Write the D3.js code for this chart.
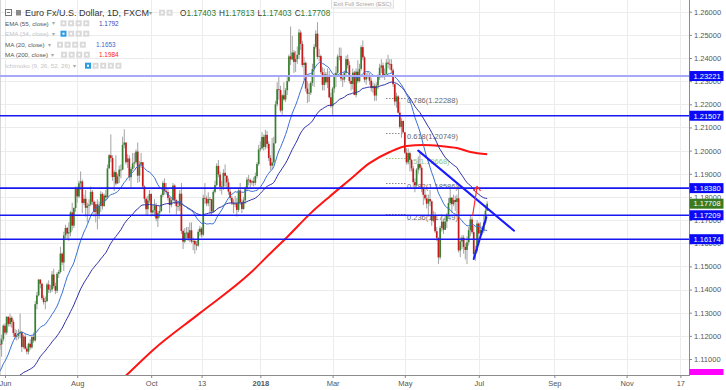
<!DOCTYPE html>
<html>
<head>
<meta charset="utf-8">
<script src="https://d3js.org/d3.v7.min.js"></script>
<style>
  body { margin: 0; background: #fff; }
  #chart { width: 726px; height: 390px; overflow: hidden; }
</style>
</head>
<body>
<div id="chart"></div>
<script>
//Datos diarios EUR/USD (FXCM). La barra 0 es el 01/06/2017, la primera del array es el 29/05/2017
const FIRST_BAR = -3;
const firstOpen = 1.1164;

//Cierres del 1 al 26 de mayo de 2017, solo para calcular la media de 20
const warmupCloses = [1.0902,1.0930,1.0885,1.0985,1.0996,1.0926,1.0874,1.0868,1.0862,1.0932,
  1.0980,1.1087,1.1160,1.1101,1.1206,1.1243,1.1183,1.1215,1.1211,1.1164];

const closes = [
  1.1163,1.1185,1.1244,
  //jun 2017
  1.1214,1.1282,1.1251,1.1278,1.1260,1.1212,1.1196,1.1200,1.1212,1.1218,1.1152,1.1197,1.1145,1.1132,1.1166,1.1150,1.1195,1.1180,1.1337,1.1375,1.1443,1.1425,
  //jul
  1.1363,1.1346,1.1350,1.1422,1.1400,1.1400,1.1465,1.1415,1.1395,1.1468,1.1476,1.1555,1.1517,1.1634,1.1666,1.1642,1.1647,1.1733,1.1676,1.1752,1.1838,
  //ago
  1.1802,1.1859,1.1867,1.1774,1.1792,1.1753,1.1762,1.1767,1.1822,1.1779,1.1735,1.1768,1.1724,1.1761,1.1813,1.1760,1.1806,1.1798,1.1923,1.1980,1.1968,1.1886,1.1907,
  //sep
  1.1858,1.1889,1.1918,1.1918,1.2025,1.2035,1.1950,1.1966,1.1885,1.1921,1.1945,1.1950,1.1996,1.1892,1.1940,1.1950,1.1845,1.1792,1.1747,1.1785,1.1813,
  //oct
  1.1733,1.1742,1.1762,1.1707,1.1730,1.1739,1.1808,1.1860,1.1825,1.1821,1.1796,1.1765,1.1786,1.1849,1.1786,1.1760,1.1761,1.1814,1.1653,1.1607,1.1645,1.1646,
  //nov
  1.1621,1.1656,1.1608,1.1610,1.1595,1.1590,1.1649,1.1663,1.1637,1.1796,1.1793,1.1772,1.1791,1.1790,1.1737,1.1822,1.1851,1.1934,1.1897,1.1844,1.1845,1.1904,
  //dic
  1.1891,1.1863,1.1823,1.1796,1.1773,1.1768,1.1771,1.1744,1.1828,1.1777,1.1748,1.1785,1.1838,1.1875,1.1873,1.1862,1.1868,1.1861,1.1890,1.1942,1.2005,
  //ene 2018
  1.2010,1.2059,1.2016,1.2068,1.2029,1.1968,1.1935,1.1949,1.2032,1.2200,1.2265,1.2262,1.2173,1.2239,1.2221,1.2261,1.2300,1.2407,1.2394,1.2424,1.2383,1.2395,1.2414,
  //feb
  1.2510,1.2461,1.2370,1.2379,1.2268,1.2246,1.2250,1.2293,1.2352,1.2448,1.2505,1.2405,1.2408,1.2339,1.2284,1.2329,1.2295,1.2319,1.2230,1.2192,
  //mar
  1.2268,1.2318,1.2336,1.2406,1.2409,1.2311,1.2307,1.2335,1.2395,1.2369,1.2301,1.2288,1.2337,1.2240,1.2341,1.2300,1.2353,1.2447,1.2403,1.2307,1.2320,1.2322,
  //abr
  1.2302,1.2270,1.2279,1.2238,1.2281,1.2319,1.2358,1.2368,1.2326,1.2331,1.2380,1.2375,1.2374,1.2347,1.2287,1.2212,1.2234,1.2164,1.2103,1.2128,1.2079,
  //may
  1.1991,1.1950,1.1989,1.1960,1.1923,1.1864,1.1850,1.1918,1.1942,1.1926,1.1835,1.1809,1.1794,1.1771,1.1791,1.1781,1.1697,1.1720,1.1652,1.1623,1.1539,1.1666,1.1693,
  //jun
  1.1658,1.1694,1.1724,1.1774,1.1797,1.1769,1.1787,1.1778,1.1794,1.1569,1.1608,1.1624,1.1584,1.1571,1.1604,1.1656,1.1703,1.1648,1.1553,1.1568,1.1685,
  //jul
  1.1642,1.1657,1.1656,1.1689,1.17403,1.17708
];

const highs = [
  1.1190,1.1205,1.1250,
  1.1255,1.1285,1.1285,1.1296,1.1285,1.1270,1.1230,1.1225,1.1230,1.1296,1.1220,1.1205,1.1210,1.1155,1.1170,1.1185,1.1200,1.1215,1.1350,1.1390,1.1445,1.1445,
  1.1430,1.1375,1.1370,1.1430,1.1440,1.1420,1.1480,1.1490,1.1430,1.1475,1.1485,1.1585,1.1560,1.1650,1.1680,1.1670,1.1690,1.1740,1.1775,1.1755,1.1845,
  1.1845,1.1870,1.1910,1.1875,1.1810,1.1830,1.1775,1.1790,1.1845,1.1830,1.1785,1.1780,1.1790,1.1780,1.1825,1.1820,1.1815,1.1830,1.1940,1.1985,1.2070,1.1980,1.1915,
  1.1980,1.1900,1.1935,1.1940,1.2060,1.2092,1.2000,1.1985,1.1980,1.1930,1.1990,1.1990,1.2005,1.2035,1.1955,1.1990,1.1950,1.1850,1.1800,1.1805,1.1830,
  1.1815,1.1765,1.1790,1.1775,1.1740,1.1760,1.1815,1.1870,1.1880,1.1860,1.1835,1.1800,1.1795,1.1860,1.1855,1.1790,1.1775,1.1830,1.1860,1.1660,1.1665,1.1670,
  1.1670,1.1690,1.1690,1.1625,1.1615,1.1610,1.1660,1.1675,1.1670,1.1810,1.1860,1.1805,1.1820,1.1800,1.1785,1.1830,1.1870,1.1945,1.1960,1.1910,1.1870,1.1920,
  1.1940,1.1895,1.1880,1.1835,1.1805,1.1790,1.1805,1.1795,1.1835,1.1860,1.1790,1.1800,1.1845,1.1885,1.1895,1.1880,1.1875,1.1885,1.1905,1.1950,1.2025,
  1.2040,1.2080,1.2070,1.2090,1.2085,1.2040,1.1980,1.2055,1.2060,1.2215,1.2295,1.2320,1.2280,1.2245,1.2295,1.2270,1.2320,1.2415,1.2536,1.2495,1.2435,1.2430,1.2450,
  1.2525,1.2520,1.2475,1.2405,1.2385,1.2300,1.2290,1.2300,1.2375,1.2460,1.2520,1.2555,1.2440,1.2415,1.2360,1.2355,1.2340,1.2355,1.2345,1.2250,
  1.2275,1.2335,1.2365,1.2415,1.2445,1.2445,1.2330,1.2345,1.2410,1.2415,1.2385,1.2325,1.2355,1.2345,1.2355,1.2390,1.2375,1.2455,1.2476,1.2410,1.2335,1.2340,
  1.2335,1.2315,1.2295,1.2290,1.2295,1.2330,1.2375,1.2395,1.2380,1.2355,1.2395,1.2414,1.2395,1.2395,1.2355,1.2285,1.2250,1.2240,1.2210,1.2140,1.2130,
  1.2080,1.2010,1.2010,1.1995,1.1965,1.1935,1.1880,1.1925,1.1975,1.1995,1.1935,1.1835,1.1835,1.1810,1.1810,1.1830,1.1785,1.1740,1.1735,1.1670,1.1625,1.1675,1.1725,
  1.1705,1.1720,1.1730,1.1795,1.1840,1.1790,1.1810,1.1805,1.1810,1.1850,1.1625,1.1635,1.1635,1.1600,1.1630,1.1670,1.1720,1.1715,1.1675,1.1590,1.1700,
  1.1690,1.1690,1.1675,1.1720,1.1765,1.17813
];

const lows = [
  1.1140,1.1110,1.1175,
  1.1205,1.1205,1.1240,1.1240,1.1235,1.1195,1.1185,1.1180,1.1185,1.1190,1.1130,1.1145,1.1140,1.1120,1.1120,1.1140,1.1145,1.1170,1.1175,1.1315,1.1370,1.1405,
  1.1355,1.1335,1.1315,1.1345,1.1385,1.1385,1.1390,1.1405,1.1380,1.1385,1.1450,1.1470,1.1505,1.1480,1.1620,1.1615,1.1610,1.1630,1.1655,1.1665,1.1735,
  1.1775,1.1795,1.1830,1.1730,1.1765,1.1715,1.1690,1.1725,1.1760,1.1765,1.1715,1.1690,1.1660,1.1705,1.1735,1.1745,1.1760,1.1780,1.1790,1.1925,1.1950,1.1870,1.1825,
  1.1850,1.1860,1.1860,1.1880,1.1915,1.2010,1.1940,1.1925,1.1870,1.1835,1.1910,1.1925,1.1940,1.1860,1.1865,1.1925,1.1840,1.1775,1.1720,1.1720,1.1775,
  1.1715,1.1720,1.1715,1.1695,1.1670,1.1710,1.1735,1.1800,1.1810,1.1810,1.1785,1.1730,1.1755,1.1780,1.1770,1.1725,1.1740,1.1740,1.1640,1.1575,1.1600,1.1620,
  1.1610,1.1605,1.1600,1.1570,1.1555,1.1570,1.1585,1.1630,1.1625,1.1630,1.1770,1.1760,1.1760,1.1725,1.1720,1.1730,1.1815,1.1845,1.1885,1.1825,1.1810,1.1830,
  1.1845,1.1835,1.1810,1.1785,1.1765,1.1730,1.1755,1.1715,1.1735,1.1765,1.1730,1.1745,1.1770,1.1825,1.1850,1.1840,1.1850,1.1845,1.1850,1.1880,1.1935,
  1.1995,1.2005,1.2000,1.2005,1.2010,1.1955,1.1915,1.1920,1.1935,1.2030,1.2190,1.2220,1.2165,1.2155,1.2215,1.2210,1.2240,1.2295,1.2370,1.2390,1.2335,1.2340,1.2375,
  1.2395,1.2435,1.2360,1.2305,1.2255,1.2205,1.2210,1.2240,1.2280,1.2275,1.2440,1.2395,1.2385,1.2330,1.2260,1.2260,1.2285,1.2270,1.2225,1.2185,
  1.2155,1.2250,1.2275,1.2325,1.2390,1.2300,1.2275,1.2295,1.2320,1.2355,1.2290,1.2260,1.2265,1.2240,1.2230,1.2290,1.2295,1.2345,1.2390,1.2295,1.2285,1.2310,
  1.2285,1.2255,1.2250,1.2215,1.2215,1.2265,1.2305,1.2335,1.2315,1.2305,1.2320,1.2355,1.2350,1.2335,1.2275,1.2195,1.2185,1.2160,1.2095,1.2055,1.2075,
  1.1985,1.1940,1.1940,1.1910,1.1910,1.1840,1.1820,1.1850,1.1900,1.1915,1.1820,1.1765,1.1785,1.1750,1.1715,1.1760,1.1675,1.1690,1.1645,1.1610,1.1510,1.1530,1.1650,
  1.1640,1.1665,1.1665,1.1710,1.1765,1.1730,1.1760,1.1740,1.1730,1.1560,1.1540,1.1575,1.1555,1.1530,1.1510,1.1590,1.1630,1.1640,1.1540,1.1525,1.1560,
  1.1595,1.1620,1.1635,1.1645,1.1680,1.17403
];

//EMA 55: valor de partida (cierre del 28/04/2017) estimado del gráfico
const emaSeed = 1.0760;

//MA 200 (barra, valor)
const ma200Bars = [62, 73, 88, 116, 146, 158, 168, 182, 193, 205, 217, 229, 239, 249, 259, 269, 277, 287];
const ma200Values = [1.0960, 1.1035, 1.1138, 1.1298, 1.1471, 1.1557, 1.1627, 1.1730, 1.1800, 1.1873, 1.1946, 1.1994, 1.2020, 1.2024, 1.2020, 1.2011, 1.1994, 1.1984];

//Ejes
const priceTicks = [1.11, 1.12, 1.13, 1.14, 1.15, 1.16, 1.17, 1.18, 1.19, 1.20, 1.21, 1.22, 1.23, 1.24, 1.25, 1.26];
const tickBars = [0, 43, 87, 117, 152, 195, 238, 282, 327, 370, 402];
const tickLabels = ['Jun', 'Aug', 'Oct', '13', '2018', 'Mar', 'May', 'Jul', 'Sep', 'Nov', '17'];

//Líneas horizontales dibujadas
const levelPrices = [1.23221, 1.21507, 1.18380, 1.17209, 1.16174];

//Retroceso de Fibonacci
const fibRatios = ['0.786', '0.618', '0.5', '0.382', '0.236'];
const fibPrices = [1.22288, 1.20749, 1.19668, 1.18586, 1.17249];

//Tendencias y flecha (barra, precio)
const downTrend = [[246, 1.2000], [303, 1.1654]];
const upTrend = [[279, 1.1532], [286.5, 1.1712]];
const arrowLine = [[278.4, 1.1722], [281, 1.1843]];

//Leyenda
const ohlcLabels = ['O', 'H', 'L', 'C'];
const ohlcValues = ['1.17403', '1.17813', '1.17403', '1.17708'];
const lastPrice = 1.17708;

/////
// Gráfico
/////
const W = 726, H = 390, plotRight = 689, plotBottom = 375;
const FONT = '"Liberation Sans", Arial, sans-serif';
const UP = '#37802f', DOWN = '#c8191b', WICK = '#a3a3a3', LEVEL = '#1717f2', BOX = '#0a0af5';

let svg = d3.select('#chart').append('svg')
  .attr('width', W).attr('height', H)
  .style('font-family', FONT);

let defs = svg.append('defs');
defs.append('clipPath').attr('id', 'plotClip')
  .append('rect').attr('x', 0).attr('y', 0).attr('width', plotRight).attr('height', plotBottom);

let x = d3.scaleLinear().domain([0, 400]).range([5, 677]);
let y = d3.scaleLinear().domain([1.11, 1.26]).range([359, 11.7]);

//Rejilla
let grid = svg.append('g');
grid.selectAll('.hg').data(priceTicks).enter().append('line')
  .attr('x1', 0).attr('x2', plotRight)
  .attr('y1', function(d) { return Math.round(y(d)) + 0.5; })
  .attr('y2', function(d) { return Math.round(y(d)) + 0.5; })
  .attr('stroke', '#ececec');
grid.selectAll('.vg').data(tickBars).enter().append('line')
  .attr('x1', function(d) { return Math.round(x(d)) + 0.5; })
  .attr('x2', function(d) { return Math.round(x(d)) + 0.5; })
  .attr('y1', 0).attr('y2', plotBottom)
  .attr('stroke', '#ececec');
grid.append('line').attr('x1', 0.5).attr('x2', 0.5).attr('y1', 0).attr('y2', plotBottom).attr('stroke', '#d6d6d6');

let plot = svg.append('g').attr('clip-path', 'url(#plotClip)');

//Fibonacci (debajo de las velas)
let fib = plot.append('g');
fibPrices.forEach(function(p, k) {
  let col = fibRatios[k] == '0.5' ? '#9cc98c' : '#8a8a8a';
  fib.append('line')
    .attr('x1', x(226.8)).attr('x2', x(238.6))
    .attr('y1', Math.round(y(p)) + 0.5).attr('y2', Math.round(y(p)) + 0.5)
    .attr('stroke', col).attr('stroke-dasharray', '1.5,1.5');
  fib.append('text')
    .attr('x', x(239.3)).attr('y', y(p) + 5.5)
    .attr('font-size', 7.5).attr('fill', fibRatios[k] == '0.5' ? '#8fc47e' : '#666')
    .text(fibRatios[k] + '(' + p.toFixed(5) + ')');
});

//Velas
let bars = closes.map(function(c, k) {
  let o = k == 0 ? firstOpen : closes[k - 1];
  return { i: FIRST_BAR + k, o: o, h: Math.max(highs[k], o, c), l: Math.min(lows[k], o, c), c: c };
});

let candles = plot.append('g').selectAll('g').data(bars).enter().append('g');
candles.append('line')
  .attr('x1', function(d) { return x(d.i); })
  .attr('x2', function(d) { return x(d.i); })
  .attr('y1', function(d) { return y(d.h); })
  .attr('y2', function(d) { return y(d.l); })
  .attr('stroke', WICK).attr('stroke-width', 1);
candles.append('rect')
  .attr('x', function(d) { return x(d.i) - 0.85; })
  .attr('width', 1.7)
  .attr('y', function(d) { return y(Math.max(d.o, d.c)); })
  .attr('height', function(d) { return Math.max(0.8, Math.abs(y(d.o) - y(d.c))); })
  .attr('fill', function(d) { return d.c >= d.o ? UP : DOWN; });

//Medias móviles
let allCloses = warmupCloses.concat(closes);
let offset = FIRST_BAR - warmupCloses.length;

let ma20 = [];
for (let k = 19; k < allCloses.length; k++) {
  ma20.push({ i: k + offset, v: d3.mean(allCloses.slice(k - 19, k + 1)) });
}

let ema55 = [], e = emaSeed;
allCloses.forEach(function(c, k) {
  e = e + (c - e) * 2 / 56;
  ema55.push({ i: k + offset, v: e });
});

let ma200 = ma200Bars.map(function(b, k) { return { i: b, v: ma200Values[k] }; });

let line = d3.line().x(function(d) { return x(d.i); }).y(function(d) { return y(d.v); });

plot.append('path').datum(ma200).attr('d', line.curve(d3.curveMonotoneX))
  .attr('fill', 'none').attr('stroke', '#ff1414').attr('stroke-width', 2);
line.curve(d3.curveLinear);
plot.append('path').datum(ema55).attr('d', line)
  .attr('fill', 'none').attr('stroke', '#2f2fa8').attr('stroke-width', 1);
plot.append('path').datum(ma20).attr('d', line)
  .attr('fill', 'none').attr('stroke', '#3a6fd3').attr('stroke-width', 1);

//Niveles horizontales
levelPrices.forEach(function(p, k) {
  plot.append('line')
    .attr('x1', 0).attr('x2', plotRight)
    .attr('y1', y(p)).attr('y2', y(p))
    .attr('stroke', k == 0 ? '#a8a8fa' : LEVEL)
    .attr('stroke-width', k == 0 ? 2 : 1.6);
});

//Tendencias
function drawSeg(pts, col, w) {
  plot.append('line')
    .attr('x1', x(pts[0][0])).attr('y1', y(pts[0][1]))
    .attr('x2', x(pts[1][0])).attr('y2', y(pts[1][1]))
    .attr('stroke', col).attr('stroke-width', w).attr('stroke-linecap', 'round');
}
drawSeg(downTrend, '#1a1aff', 2);
drawSeg(upTrend, '#1a1aff', 2);
drawSeg(arrowLine, '#ff2a2a', 1.2);

//Punta de la flecha
let tipX = x(arrowLine[1][0]), tipY = y(arrowLine[1][1]);
plot.append('path')
  .attr('d', 'M' + (tipX - 3.5) + ',' + (tipY + 4) + 'L' + tipX + ',' + (tipY - 0.5) + 'L' + (tipX + 3.5) + ',' + (tipY + 4))
  .attr('fill', 'none').attr('stroke', '#ff2a2a').attr('stroke-width', 1.2);

//Eje de precios
let yAxis = svg.append('g').attr('transform', 'translate(' + plotRight + ',0)')
  .call(d3.axisRight(y).tickValues(priceTicks).tickFormat(d3.format('.5f')).tickSize(3).tickPadding(2));
yAxis.select('.domain').remove();
yAxis.selectAll('line').attr('stroke', '#888');
yAxis.selectAll('text').attr('font-size', 7.5).attr('fill', '#555').attr('font-family', FONT);
svg.append('line').attr('x1', plotRight + 0.5).attr('x2', plotRight + 0.5).attr('y1', 0).attr('y2', plotBottom).attr('stroke', '#8c8c8c');

//Eje de tiempo
let xAxis = svg.append('g').attr('transform', 'translate(0,' + plotBottom + ')')
  .call(d3.axisBottom(x).tickValues(tickBars).tickFormat(function(d, k) { return tickLabels[k]; }).tickSize(3).tickPadding(3));
xAxis.select('.domain').remove();
xAxis.selectAll('line').attr('stroke', '#888');
xAxis.selectAll('text').attr('font-size', 7.5).attr('fill', '#555').attr('font-family', FONT)
  .attr('font-weight', function(d, k) { return tickLabels[k] == '2018' ? 'bold' : 'normal'; });
svg.append('line').attr('x1', 0).attr('x2', plotRight + 1).attr('y1', plotBottom + 0.5).attr('y2', plotBottom + 0.5).attr('stroke', '#8c8c8c');

//Etiquetas en el eje
function axisBox(p, fill) {
  svg.append('rect').attr('x', plotRight + 0.5).attr('y', y(p) - 5).attr('width', 34).attr('height', 10).attr('fill', fill);
  svg.append('text').attr('x', plotRight + 4.5).attr('y', y(p) + 2.8)
    .attr('font-size', 7.5).attr('fill', '#fff').text(p.toFixed(5));
}
levelPrices.forEach(function(p) { axisBox(p, BOX); });
axisBox(lastPrice, '#3a7b21');
svg.append('rect').attr('x', plotRight + 0.5).attr('y', 369).attr('width', 34).attr('height', 6).attr('fill', '#ff00ff');

/////
// Cabecera y leyenda
/////
let head = svg.append('g');

function iconRow(x0, cy, n, firstBlue) {
  for (let k = 0; k < n; k++) {
    let blue = firstBlue && k == 0;
    head.append('rect').attr('x', x0 + k * 7.6).attr('y', cy - 3).attr('width', 6).attr('height', 6)
      .attr('fill', blue ? '#2c9de3' : '#dadada');
    head.append('rect').attr('x', x0 + k * 7.6 + 2).attr('y', cy - 1).attr('width', 2).attr('height', 2)
      .attr('fill', '#fff');
  }
}

head.append('rect').attr('x', 5.5).attr('y', 9.5).attr('width', 6).attr('height', 6).attr('fill', 'none').attr('stroke', '#777');
head.append('line').attr('x1', 7).attr('x2', 10).attr('y1', 12.5).attr('y2', 12.5).attr('stroke', '#777');
head.append('rect').attr('x', 16).attr('y', 10).attr('width', 5).attr('height', 5.5).attr('fill', '#8a8a8a');
head.append('text').attr('x', 25).attr('y', 16).attr('font-size', 9).attr('fill', '#333')
  .text('Euro Fx/U.S. Dollar, 1D, FXCM');
head.append('text').attr('x', 149).attr('y', 15).attr('font-size', 6).attr('fill', '#999').text('▾');
iconRow(159, 12.7, 2, false);

let ohlc = head.append('text').attr('x', 180).attr('y', 15.8).attr('font-size', 8.2);
ohlcLabels.forEach(function(l, k) {
  ohlc.append('tspan').attr('fill', '#333').attr('dx', k == 0 ? 0 : 3).text(l);
  ohlc.append('tspan').attr('fill', '#2f7a2f').text(ohlcValues[k]);
});

//Filas de indicadores
let rows = [
  { name: 'EMA (55, close)', cy: 23.3, ix: 60.5, n: 4, blue: false, faint: false, val: '1.1792', vx: 99, vc: '#4242c2' },
  { name: 'EMA (34, close)', cy: 33.7, ix: 60.5, n: 4, blue: true, faint: true },
  { name: 'MA (20, close)', cy: 44.7, ix: 57, n: 4, blue: false, faint: false, val: '1.1653', vx: 96, vc: '#3d66cc' },
  { name: 'MA (200, close)', cy: 54.7, ix: 61, n: 4, blue: false, faint: false, val: '1.1984', vx: 99, vc: '#ff1a1a' },
  { name: 'Ichimoku (9, 26, 52, 26)', cy: 65.7, ix: 85, n: 5, blue: true, faint: true }
];
rows.forEach(function(r) {
  let t = head.append('text').attr('x', 5).attr('y', r.cy + 2.2).attr('font-size', 6.2)
    .attr('fill', r.faint ? '#c4c4c4' : '#555').text(r.name);
  let w = t.node().getComputedTextLength();
  head.append('text').attr('x', 5 + w + 3).attr('y', r.cy + 2).attr('font-size', 5.5).attr('fill', '#aaa').text('▾');
  iconRow(r.ix, r.cy, r.n, r.blue);
  if (r.val) {
    head.append('text').attr('x', r.vx).attr('y', r.cy + 2.2).attr('font-size', 6.4).attr('fill', r.vc).text(r.val);
  }
});

//Botón de pantalla completa
head.append('rect').attr('x', 331.5).attr('y', -3).attr('width', 62).attr('height', 11)
  .attr('fill', '#fbfbfb').attr('stroke', '#e2e2e2');
head.append('text').attr('x', 362.5).attr('y', 5.5).attr('text-anchor', 'middle')
  .attr('font-size', 5.8).attr('fill', '#a9a9a9').text('Exit Full Screen (ESC)');
</script>
</body>
</html>
